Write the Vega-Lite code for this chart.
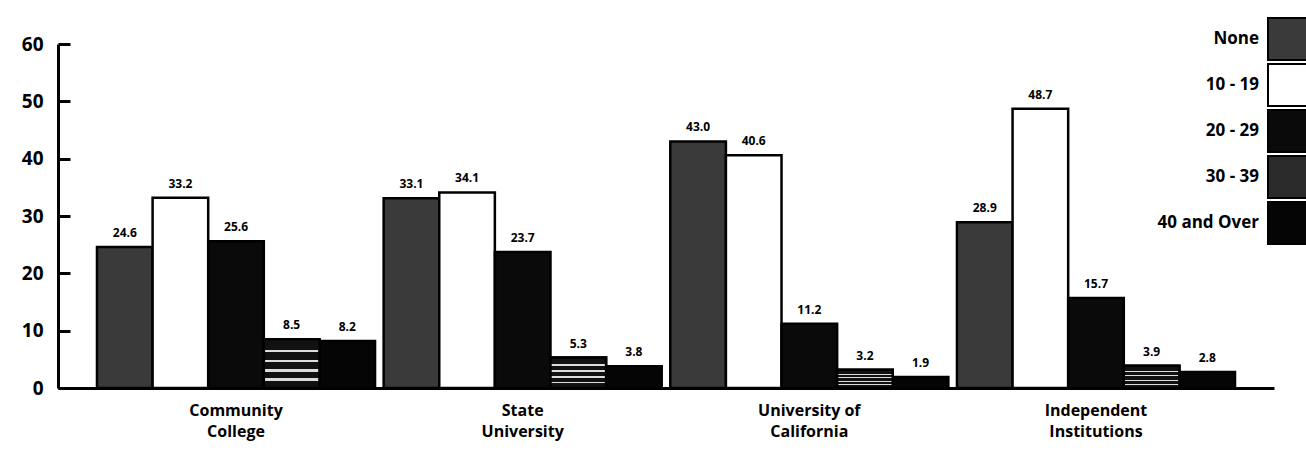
{
  "$schema": "https://vega.github.io/schema/vega-lite/v6.json",
  "width": 1216,
  "height": 344,
  "autosize": "none",
  "padding": {"left": 58, "top": 44, "right": 32, "bottom": 75},
  "background": "white",
  "config": {"view": {"stroke": null}, "font": "Open Sans"},
  "data": {
    "values": [
      {"institution": "Community College", "units": "None", "percent": 24.6},
      {"institution": "Community College", "units": "10 - 19", "percent": 33.2},
      {"institution": "Community College", "units": "20 - 29", "percent": 25.6},
      {"institution": "Community College", "units": "30 - 39", "percent": 8.5},
      {"institution": "Community College", "units": "40 and Over", "percent": 8.2},
      {"institution": "State University", "units": "None", "percent": 33.1},
      {"institution": "State University", "units": "10 - 19", "percent": 34.1},
      {"institution": "State University", "units": "20 - 29", "percent": 23.7},
      {"institution": "State University", "units": "30 - 39", "percent": 5.3},
      {"institution": "State University", "units": "40 and Over", "percent": 3.8},
      {"institution": "University of California", "units": "None", "percent": 43.0},
      {"institution": "University of California", "units": "10 - 19", "percent": 40.6},
      {"institution": "University of California", "units": "20 - 29", "percent": 11.2},
      {"institution": "University of California", "units": "30 - 39", "percent": 3.2},
      {"institution": "University of California", "units": "40 and Over", "percent": 1.9},
      {"institution": "Independent Institutions", "units": "None", "percent": 28.9},
      {"institution": "Independent Institutions", "units": "10 - 19", "percent": 48.7},
      {"institution": "Independent Institutions", "units": "20 - 29", "percent": 15.7},
      {"institution": "Independent Institutions", "units": "30 - 39", "percent": 3.9},
      {"institution": "Independent Institutions", "units": "40 and Over", "percent": 2.8}
    ]
  },
  "encoding": {
    "x": {
      "field": "institution",
      "type": "nominal",
      "sort": ["Community College", "State University", "University of California", "Independent Institutions"],
      "scale": {"paddingInner": 0.03, "paddingOuter": 0.136},
      "axis": {
        "title": null,
        "labelAngle": 0,
        "ticks": false,
        "domainColor": "black",
        "domainWidth": 3,
        "labelFontSize": 16,
        "labelFontWeight": "bold",
        "labelColor": "black",
        "labelPadding": 14,
        "labelLineHeight": 21,
        "labelExpr": "datum.value == 'Community College' ? ['Community', 'College'] : datum.value == 'State University' ? ['State', 'University'] : datum.value == 'University of California' ? ['University of', 'California'] : ['Independent', 'Institutions']"
      }
    },
    "xOffset": {
      "field": "units",
      "type": "nominal",
      "sort": ["None", "10 - 19", "20 - 29", "30 - 39", "40 and Over"],
      "scale": {"paddingInner": 0, "paddingOuter": 0}
    },
    "y": {
      "field": "percent",
      "type": "quantitative",
      "scale": {"domain": [0, 60], "nice": false},
      "axis": {
        "title": null,
        "grid": false,
        "values": [0, 10, 20, 30, 40, 50, 60],
        "domainColor": "black",
        "domainWidth": 3,
        "tickColor": "black",
        "tickWidth": 3,
        "tickSize": -12,
        "labelFontSize": 19,
        "labelFontWeight": "bold",
        "labelColor": "black",
        "labelPadding": 27
      }
    }
  },
  "layer": [
    {
      "mark": {"type": "bar", "stroke": "black", "strokeWidth": 2.5},
      "encoding": {
        "fill": {
          "field": "units",
          "type": "nominal",
          "sort": ["None", "10 - 19", "20 - 29", "30 - 39", "40 and Over"],
          "scale": {"range": ["#3a3a3a", "#ffffff", "#0a0a0a", "#2a2a2a", "#050505"]},
          "legend": {
            "title": null,
            "orient": "none",
            "legendX": 1042,
            "legendY": -26,
            "symbolType": "M-1,-1.05H1V1.05H-1Z",
            "symbolSize": 1600,
            "symbolStrokeColor": "black",
            "symbolStrokeWidth": 2,
            "symbolOffset": 167,
            "labelOffset": -50,
            "labelAlign": "right",
            "labelFontSize": 17,
            "labelFontWeight": "bold",
            "labelColor": "black",
            "labelLimit": 300,
            "rowPadding": -12
          }
        }
      }
    },
    {
      "transform": [{"filter": "datum.units == '30 - 39'"}],
      "mark": {
        "type": "bar",
        "stroke": "black",
        "strokeWidth": 2.5,
        "fill": {
          "gradient": "linear",
          "x1": 0, "y1": 0, "x2": 0, "y2": 1,
          "stops": [
            {"offset": 0, "color": "#111111"},
            {"offset": 0.22, "color": "#111111"},
            {"offset": 0.22, "color": "#dddddd"},
            {"offset": 0.27, "color": "#dddddd"},
            {"offset": 0.27, "color": "#111111"},
            {"offset": 0.42, "color": "#111111"},
            {"offset": 0.42, "color": "#dddddd"},
            {"offset": 0.47, "color": "#dddddd"},
            {"offset": 0.47, "color": "#111111"},
            {"offset": 0.62, "color": "#111111"},
            {"offset": 0.62, "color": "#dddddd"},
            {"offset": 0.67, "color": "#dddddd"},
            {"offset": 0.67, "color": "#111111"},
            {"offset": 0.8, "color": "#111111"},
            {"offset": 0.8, "color": "#dddddd"},
            {"offset": 0.85, "color": "#dddddd"},
            {"offset": 0.85, "color": "#111111"},
            {"offset": 1, "color": "#111111"}
          ]
        }
      },
      "encoding": {}
    },
    {
      "mark": {"type": "text", "dy": -14, "fontSize": 12, "fontWeight": "bold", "color": "black"},
      "encoding": {
        "text": {"field": "percent", "type": "quantitative", "format": ".1f"}
      }
    }
  ]
}
